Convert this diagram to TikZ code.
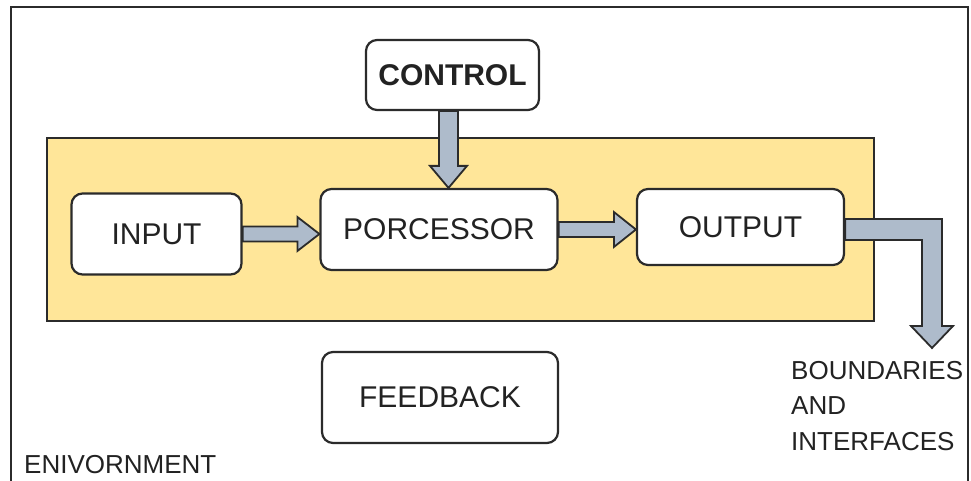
\documentclass[tikz,border=0pt]{standalone}
\usepackage{fontspec}
\setmainfont{Liberation Sans}
\usetikzlibrary{calc}
\definecolor{edge}{HTML}{2B2B2B}
\definecolor{sysfill}{HTML}{FFE699}
\definecolor{arrowfill}{HTML}{AEBBCB}
\definecolor{txt}{HTML}{222222}
\begin{document}
\begin{tikzpicture}[x=1pt,y=-1pt,
 box/.style={draw=edge,line width=2.2pt,rounded corners=11pt,fill=white,text=txt,font=\fontsize{30}{32}\selectfont,inner sep=0pt},
 blockarrow/.style={draw=edge,line width=1.8pt,fill=arrowfill,line join=miter},
 lbl/.style={text=txt,font=\fontsize{26}{30}\selectfont,inner sep=0pt,anchor=base west}]
\useasboundingbox (0,0) rectangle (971,481);
\draw[edge,line width=2.2pt] (11,481) -- (11,7) -- (968,7) -- (968,481);
\node[draw=edge,line width=2.2pt,fill=sysfill,minimum width=827pt,minimum height=183pt,inner sep=0pt,anchor=north west] (sys) at (46,137) {};
\node[box,minimum width=170pt,minimum height=81pt] (inp) at (156.5,234) {INPUT};
\node[box,minimum width=237pt,minimum height=81pt] (proc) at (439,229.5) {PORCESSOR};
\node[box,minimum width=207pt,minimum height=76pt] (outp) at (740.5,227) {OUTPUT};
\node[box,minimum width=173pt,minimum height=70pt,font=\bfseries\fontsize{30}{32}\selectfont] (ctl) at (452.5,75) {CONTROL};
\node[box,minimum width=236pt,minimum height=91pt] (fb) at (440,397.5) {FEEDBACK};
% input -> processor
\coordinate (t1) at (proc.west|-inp.east);
\draw[blockarrow] ($(inp.east)+(0,-7.5)$) -- ($(t1)+(-22,-7.5)$) -- ($(t1)+(-22,-17)$) -- (t1) -- ($(t1)+(-22,17)$) -- ($(t1)+(-22,7.5)$) -- ($(inp.east)+(0,7.5)$) -- cycle;
% processor -> output
\coordinate (t2) at (outp.west|-proc.east);
\draw[blockarrow] ($(proc.east)+(0,-7.5)$) -- ($(t2)+(-22,-7.5)$) -- ($(t2)+(-22,-17.5)$) -- (t2) -- ($(t2)+(-22,17.5)$) -- ($(t2)+(-22,7.5)$) -- ($(proc.east)+(0,7.5)$) -- cycle;
% control -> processor
\coordinate (c0) at ($(ctl.south)+(-4,0)$);
\coordinate (t3) at (c0|-proc.north);
\draw[blockarrow] ($(c0)+(-9.5,0)$) -- ($(t3)+(-9.5,-22)$) -- ($(t3)+(-18.5,-22)$) -- (t3) -- ($(t3)+(18.5,-22)$) -- ($(t3)+(9.5,-22)$) -- ($(c0)+(9.5,0)$) -- cycle;
% output -> boundaries (bent)
\coordinate (o0) at ($(outp.east)+(0,2.5)$);
\coordinate (t4) at (932,348);
\draw[blockarrow] ($(o0)+(0,-10.5)$) -- ($(t4|-o0)+(10,-10.5)$) -- ($(t4)+(10,-22)$) -- ($(t4)+(21,-22)$) -- (t4) -- ($(t4)+(-21,-22)$) -- ($(t4)+(-10,-22)$) -- ($(t4|-o0)+(-10,10.5)$) -- ($(o0)+(0,10.5)$) -- cycle;
\node[lbl] (b1) at (791,379) {BOUNDARIES};
\node[lbl] (b2) at (791,414.5) {AND};
\node[lbl] (b3) at (791,450) {INTERFACES};
\node[lbl] (env) at (24,473) {ENIVORNMENT};
\end{tikzpicture}
\end{document}
